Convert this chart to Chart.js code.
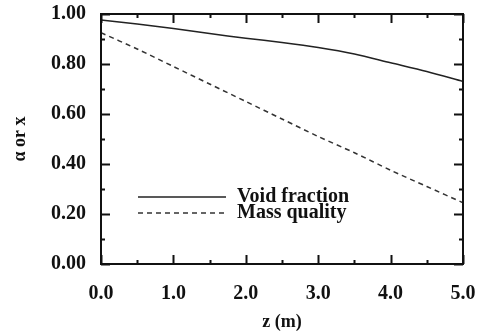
<!DOCTYPE html>
<html>
<head>
<meta charset="utf-8">
<script src="https://cdn.jsdelivr.net/npm/chart.js@4/dist/chart.umd.min.js"></script>
<style>
  html, body { margin: 0; padding: 0; background: #fff; }
  #wrap { width: 478px; height: 336px; }
</style>
</head>
<body>
<div id="wrap"><canvas id="grafico" width="478" height="336"></canvas></div>
<script>
// distance along the channel (m)
var zValues = [0.0, 0.5, 1.0, 1.5, 2.0, 2.5, 3.0, 3.5, 4.0, 4.5, 5.0];
// void fraction (solid) and mass quality (dashed)
var voidFraction = [0.976, 0.960, 0.942, 0.922, 0.903, 0.886, 0.866, 0.840, 0.805, 0.770, 0.730];
var massQuality  = [0.925, 0.860, 0.790, 0.720, 0.650, 0.580, 0.510, 0.445, 0.375, 0.310, 0.245];
var seriesNames = ['Void fraction', 'Mass quality'];
// tick positions
var xMajor = [0, 1, 2, 3, 4, 5];
var xMinor = [0.5, 1.5, 2.5, 3.5, 4.5];
var yMajor = [0, 0.2, 0.4, 0.6, 0.8, 1.0];
var yMinor = [0.1, 0.3, 0.5, 0.7, 0.9];

var serif = '"Liberation Serif", "DejaVu Serif", serif';

function toPoints(ys) {
    return zValues.map(function(z, i) { return { x: z, y: ys[i] }; });
}

// ticks pointing inward on all four sides, plus the frame and the legend
var framePlugin = {
    id: 'frame',
    afterDraw: function(chart) {
        var ctx = chart.ctx;
        var a = chart.chartArea;
        var xs = chart.scales.x, ys = chart.scales.y;
        ctx.save();
        ctx.strokeStyle = '#111';
        ctx.lineWidth = 2;
        ctx.strokeRect(a.left, a.top, a.right - a.left, a.bottom - a.top);

        function xt(v, len) {
            var p = Math.round(xs.getPixelForValue(v)) + 0.5;
            ctx.beginPath();
            ctx.moveTo(p, a.bottom); ctx.lineTo(p, a.bottom - len);
            ctx.moveTo(p, a.top); ctx.lineTo(p, a.top + len);
            ctx.stroke();
        }
        function yt(v, len) {
            var p = Math.round(ys.getPixelForValue(v)) + 0.5;
            ctx.beginPath();
            ctx.moveTo(a.left, p); ctx.lineTo(a.left + len, p);
            ctx.moveTo(a.right, p); ctx.lineTo(a.right - len, p);
            ctx.stroke();
        }
        xMajor.forEach(function(v) { xt(v, 9); });
        xMinor.forEach(function(v) { xt(v, 4); });
        yMajor.forEach(function(v) { yt(v, 9); });
        yMinor.forEach(function(v) { yt(v, 4); });

        // legend
        var lx0 = 138, lx1 = 226, ly = [197, 213];
        ctx.lineWidth = 1.5;
        chart.data.datasets.forEach(function(ds, i) {
            ctx.setLineDash(ds.borderDash || []);
            ctx.strokeStyle = ds.borderColor;
            ctx.beginPath();
            ctx.moveTo(lx0, ly[i]); ctx.lineTo(lx1, ly[i]);
            ctx.stroke();
            ctx.setLineDash([]);
            ctx.fillStyle = '#111';
            ctx.font = 'bold 20px ' + serif;
            ctx.textBaseline = 'middle';
            ctx.textAlign = 'left';
            ctx.fillText(seriesNames[i], 237, ly[i]);
        });
        ctx.restore();
    }
};

var ctx = document.getElementById('grafico').getContext('2d');
var grafico = new Chart(ctx, {
    type: 'line',
    data: {
        datasets: [{
            label: seriesNames[0],
            data: toPoints(voidFraction),
            borderColor: '#222',
            borderWidth: 1.5,
            pointRadius: 0,
            tension: 0.3,
            fill: false
        }, {
            label: seriesNames[1],
            data: toPoints(massQuality),
            borderColor: '#333',
            borderWidth: 1.5,
            borderDash: [5, 4],
            pointRadius: 0,
            tension: 0.3,
            fill: false
        }]
    },
    options: {
        responsive: false,
        animation: false,
        maintainAspectRatio: false,
        layout: { padding: { left: 0, right: 15, top: 14, bottom: 0 } },
        plugins: {
            legend: { display: false },
            tooltip: { enabled: false }
        },
        scales: {
            x: {
                type: 'linear',
                min: 0, max: 5,
                afterFit: function(s) { s.height = 72; s.paddingLeft = 0; s.paddingRight = 0; },
                grid: { display: false, drawTicks: false },
                border: { display: false },
                ticks: {
                    stepSize: 1,
                    padding: 18,
                    color: '#111',
                    font: { family: serif, size: 20, weight: 'bold' },
                    callback: function(v) { return v.toFixed(1); }
                },
                title: {
                    display: true,
                    text: 'z (m)',
                    color: '#111',
                    padding: { top: 0, bottom: 3 },
                    font: { family: serif, size: 18, weight: 'bold' }
                }
            },
            y: {
                min: 0, max: 1,
                afterFit: function(s) { s.width = 101; s.paddingTop = 0; s.paddingBottom = 0; },
                grid: { display: false, drawTicks: false },
                border: { display: false },
                ticks: {
                    stepSize: 0.2,
                    padding: 15,
                    color: '#111',
                    font: { family: serif, size: 20, weight: 'bold' },
                    callback: function(v) { return v.toFixed(2); }
                },
                title: {
                    display: true,
                    text: 'α or x',
                    color: '#111',
                    padding: { top: 10, bottom: 0 },
                    font: { family: serif, size: 18, weight: 'bold' }
                }
            }
        }
    },
    plugins: [framePlugin]
});
</script>
</body>
</html>
